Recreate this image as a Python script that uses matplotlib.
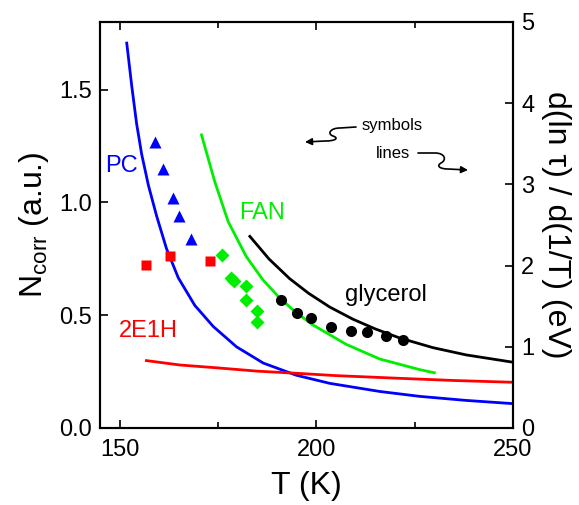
import numpy as np
import matplotlib
matplotlib.use('Agg')
import matplotlib.pyplot as plt
from matplotlib.path import Path
from matplotlib.patches import FancyArrowPatch

plt.rcParams['font.family'] = ['Liberation Sans', 'DejaVu Sans']
plt.rcParams['mathtext.fontset'] = 'custom'
plt.rcParams['mathtext.rm'] = 'Liberation Sans'
plt.rcParams['mathtext.it'] = 'Liberation Sans'

# symbols: N_corr (left axis)
pc_T = [159.0, 160.9, 163.6, 165.1, 168.1]
pc_N = [1.27, 1.15, 1.02, 0.94, 0.84]
eh_T = [156.8, 162.9, 172.9]
eh_N = [0.724, 0.761, 0.742]
fan_T = [175.9, 178.4, 179.0, 182.0, 182.1, 185.0, 185.0]
fan_N = [0.766, 0.665, 0.65, 0.628, 0.569, 0.52, 0.472]
gly_T = [190.9, 195.1, 198.7, 203.8, 208.9, 212.8, 217.8, 222.0]
gly_N = [0.569, 0.51, 0.487, 0.448, 0.431, 0.425, 0.41, 0.391]

# lines: d(ln tau)/d(1/T) (right axis)
pcL_T = [151.8, 153.05, 154.3, 155.6, 157.3, 159.4, 161.9, 164.9, 169.1, 173.8,
         179.7, 186.5, 194.9, 203.4, 216.1, 226.2, 238.0, 250.0]
pcL_E = [4.74, 4.22, 3.75, 3.37, 2.99, 2.61, 2.21, 1.85, 1.51, 1.25,
         1.00, 0.80, 0.65, 0.55, 0.45, 0.39, 0.34, 0.30]
ehL_T = [156.8, 165.3, 175.0, 185.0, 194.9, 205.0, 221.1, 235.0, 250.0]
ehL_E = [0.83, 0.776, 0.74, 0.70, 0.674, 0.645, 0.612, 0.585, 0.563]
fanL_T = [170.8, 174.2, 177.6, 182.2, 186.5, 190.7, 194.9, 199.1, 207.6, 216.1,
          226.2, 230.0]
fanL_E = [3.61, 3.03, 2.54, 2.11, 1.82, 1.60, 1.42, 1.27, 1.03, 0.85,
          0.72, 0.68]
glyL_T = [183.1, 188.0, 193.2, 198.0, 203.4, 209.3, 215.0, 221.1, 229.6, 238.1,
          250.0]
glyL_E = [2.36, 2.08, 1.84, 1.66, 1.49, 1.34, 1.22, 1.11, 0.99, 0.90,
          0.81]

blue, red, green = '#0000ff', '#ff0000', '#00ee00'

fig = plt.figure(figsize=(5.79, 5.05), dpi=100)
ax = fig.add_axes([100/579, 1-428/505, 413/579, 406/505])
ax2 = ax.twinx()
ax.set_zorder(ax2.get_zorder() + 1)
ax.patch.set_visible(False)

lw = 2.0
ax2.plot(pcL_T, pcL_E, color=blue, lw=lw)
ax2.plot(ehL_T, ehL_E, color=red, lw=lw)
ax2.plot(fanL_T, fanL_E, color=green, lw=lw)
ax2.plot(glyL_T, glyL_E, color='black', lw=lw)

ax.plot(pc_T, pc_N, '^', color=blue, ms=9, mec='none')
ax.plot(eh_T, eh_N, 's', color=red, ms=7, mec='none')
ax.plot(fan_T, fan_N, 'D', color=green, ms=7, mec='none')
ax.plot(gly_T, gly_N, 'o', color='black', ms=8, mec='none')

ax.set_xlim(145, 250)
ax.set_ylim(0, 1.8)
ax2.set_ylim(0, 5)
ax.set_xticks([150, 200, 250])
ax.set_xticks([175, 225], minor=True)
ax.set_yticks([0.0, 0.5, 1.0, 1.5])
ax.set_yticklabels(['0.0', '0.5', '1.0', '1.5'])
ax2.set_yticks([0, 1, 2, 3, 4, 5])

for a in (ax, ax2):
    for s in a.spines.values():
        s.set_linewidth(1.5)
ax.tick_params(axis='x', which='both', direction='in', top=True, labelsize=17, pad=8)
ax.tick_params(axis='x', which='major', length=6, width=1.2)
ax.tick_params(axis='x', which='minor', length=4.5, width=1.2)
ax.tick_params(axis='y', direction='in', length=6, width=1.2, labelsize=17, pad=6)
ax2.tick_params(axis='y', direction='in', length=6, width=1.2, labelsize=17, pad=6)

ax.set_xlabel('T (K)', fontsize=23, labelpad=7)
ax.set_ylabel('N$_{\\rm corr}$ (a.u.)', fontsize=23, labelpad=6)
ax2.set_ylabel('d(ln \u03c4) / d(1/T) (eV)', fontsize=23, rotation=-90, labelpad=26)

ax.text(150.5, 1.16, 'PC', color=blue, fontsize=17, ha='center', va='center')
ax.text(186.3, 0.954, 'FAN', color=green, fontsize=17, ha='center', va='center')
ax.text(157.3, 0.431, '2E1H', color=red, fontsize=17, ha='center', va='center')
ax.text(217.8, 0.59, 'glycerol', color='black', fontsize=17, ha='center', va='center')
ax.text(219.4, 1.34, 'symbols', color='black', fontsize=12, ha='center', va='center')
ax.text(219.4, 1.216, 'lines', color='black', fontsize=12, ha='center', va='center')


def fp(px, py):
    return (px / 579, 1 - py / 505)


def wiggle(pts):
    codes = [Path.MOVETO, Path.LINETO, Path.CURVE4, Path.CURVE4, Path.CURVE4,
             Path.CURVE4, Path.CURVE4, Path.CURVE4, Path.LINETO]
    return Path([fp(*p) for p in pts], codes)


sym_path = wiggle([(356, 127), (340, 128), (330, 128), (327, 134), (333, 136),
                   (339, 138), (336, 141), (325, 141), (305, 142)])
lin_path = wiggle([(418, 153), (435, 153), (445, 153), (447, 160), (441, 163),
                   (436, 166), (440, 169), (448, 169), (468, 170)])
for p in (sym_path, lin_path):
    arr = FancyArrowPatch(path=p, arrowstyle='-|>', mutation_scale=10,
                          lw=1.2, color='black', transform=fig.transFigure)
    fig.patches.append(arr)

fig.savefig('out.png', dpi=100)
